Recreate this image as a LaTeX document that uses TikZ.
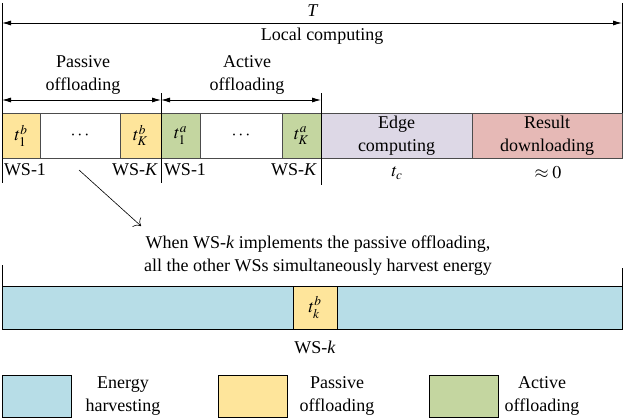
\documentclass[tikz,border=0pt]{standalone}
\usepackage{mathptmx}
\usepackage{fontspec}
\setmainfont{Liberation Serif}
\usepackage{xcolor}
\usetikzlibrary{positioning, arrows.meta}

\definecolor{passivec}{HTML}{FEE59B}
\definecolor{activec}{HTML}{C4D6A0}
\definecolor{edgec}{HTML}{DDD8E6}
\definecolor{resultc}{HTML}{E6B9B6}
\definecolor{harvestc}{HTML}{B7DDE7}

\begin{document}
\begin{tikzpicture}[x=1pt, y=-1pt, font=\fontsize{18}{23}\selectfont,
  seg/.style={draw=black!70, line width=1pt, minimum height=45pt, inner sep=0pt, outer sep=0pt},
  key/.style={draw=black, line width=1pt, minimum width=69pt, minimum height=42pt, inner sep=0pt, outer sep=0pt},
  lbl/.style={align=center, inner sep=0pt},
  span/.style={{Latex[length=9pt,width=5pt]}-{Latex[length=9pt,width=5pt]}, line width=0.8pt},
  tick/.style={line width=0.8pt}]
  \useasboundingbox (0,0) rectangle (624,420);

  % time frame
  \node[seg, fill=passivec, anchor=north west, minimum width=38pt] (p1) at (2,113) {$t_1^b$};
  \node[seg, right=0pt of p1, minimum width=80pt] (pdots) {$\cdots$};
  \node[seg, fill=passivec, right=0pt of pdots, minimum width=41pt] (pK) {$t_K^b$};
  \node[seg, fill=activec, right=0pt of pK, minimum width=39pt] (a1) {$t_1^a$};
  \node[seg, right=0pt of a1, minimum width=82pt] (adots) {$\cdots$};
  \node[seg, fill=activec, right=0pt of adots, minimum width=39pt] (aK) {$t_K^a$};
  \node[seg, fill=edgec, right=0pt of aK, minimum width=151pt, lbl] (edge) {Edge\\computing};
  \node[seg, fill=resultc, right=0pt of edge, minimum width=150pt, lbl] (result) {Result\\downloading};

  % boundaries
  \coordinate (l0) at (2,3);
  \coordinate (l1) at (2,183);
  \coordinate (m0) at (161,93);
  \coordinate (m1) at (161,183);
  \coordinate (n0) at (321,93);
  \coordinate (n1) at (321,185);
  \coordinate (r0) at (622,3);
  \draw[tick] (l0) -- (l1);
  \draw[tick] (m0) -- (m1);
  \draw[tick] (n0) -- (n1);
  \draw[tick] (r0) -- (result.north east);

  % spans
  \coordinate (tl) at (2,23);
  \coordinate (tr) at (622,23);
  \draw[span] (tl) -- (tr);
  \node[lbl] (T) at (313,11) {\textit{T}};
  \node[lbl] (local) at (322,36) {Local computing};
  \coordinate (pl) at (2,100);
  \coordinate (pm) at (161,100);
  \coordinate (pr) at (321,100);
  \draw[span] (pl) -- (pm);
  \draw[span] (pm) -- (pr);
  \node[lbl] (passive) at (83,75) {Passive\\offloading};
  \node[lbl] (active) at (247,75) {Active\\offloading};

  % labels under the frame
  \node[lbl] (ws1b) at (25,170) {WS-1};
  \node[lbl] (wsKb) at (135,170) {WS-\textit{K}};
  \node[lbl] (ws1a) at (185,170) {WS-1};
  \node[lbl] (wsKa) at (294,170) {WS-\textit{K}};
  \node[lbl] (tc) at (397,173) {$t_c$};
  \node[lbl] (zero) at (548,173) {$\approx 0$};

  % zoom on passive offloading
  \coordinate (z0) at (79,170);
  \coordinate (z1) at (141,226);
  \draw[-{To[length=6pt]}, line width=0.6pt] (z0) -- (z1);
  \node[lbl] (note) at (318,256) {When WS-\textit{k} implements the passive offloading,\\all the other WSs simultaneously harvest energy};

  \node[seg, fill=harvestc, anchor=north west, minimum width=291pt, minimum height=43pt, draw=black] (h1) at (2,286) {};
  \node[seg, fill=passivec, right=0pt of h1, minimum width=44pt, minimum height=43pt, draw=black] (hk) {$t_k^b$};
  \node[seg, fill=harvestc, right=0pt of hk, minimum width=285pt, minimum height=43pt, draw=black] (h2) {};
  \coordinate (b0) at (2,265);
  \coordinate (b1) at (622,268);
  \draw[tick] (b0) -- (h1.north west);
  \draw[tick] (b1) -- (h2.north east);
  \node[lbl] (wsk) at (315,347) {WS-\textit{k}};

  % legend
  \node[key, fill=harvestc, anchor=north west] (kh) at (2,375) {};
  \node[lbl] (kht) at (123,396) {Energy\\harvesting};
  \node[key, fill=passivec, anchor=north west] (kp) at (218,375) {};
  \node[lbl] (kpt) at (337,396) {Passive\\offloading};
  \node[key, fill=activec, anchor=north west] (ka) at (429,375) {};
  \node[lbl] (kat) at (542,396) {Active\\offloading};
\end{tikzpicture}
\end{document}
